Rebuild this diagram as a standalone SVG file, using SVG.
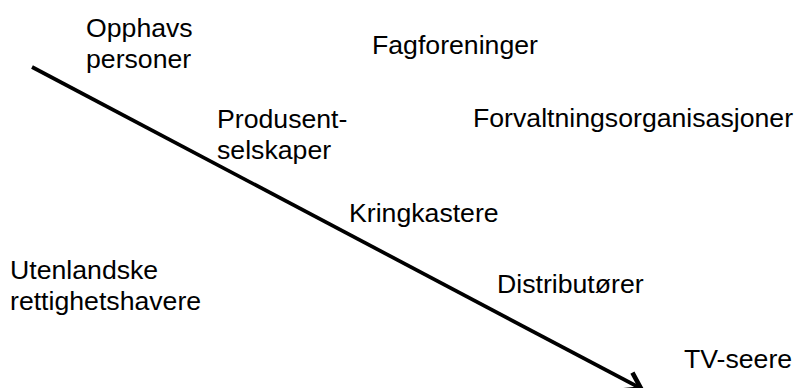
<svg xmlns="http://www.w3.org/2000/svg" width="797" height="388" viewBox="0 0 797 388">
  <style>
    text { font-family: "Liberation Sans", Arial, sans-serif; font-size: 26.67px; fill: #000; }
    .conn { stroke: #000; stroke-width: 3.7; fill: none; }
  </style>
  <defs>
    <marker id="arrow" markerUnits="userSpaceOnUse" markerWidth="30" markerHeight="30" refX="0" refY="0" viewBox="-16 -12 20 24" orient="auto" overflow="visible">
      <path d="M-12,-8 L0,0 L-12,8" fill="none" stroke="#000" stroke-width="3.7"/>
    </marker>
  </defs>
  <rect width="797" height="388" fill="#fff"/>
  <g id="connectors">
    <line class="conn" x1="32" y1="67" x2="641" y2="388.5" marker-end="url(#arrow)"/>
  </g>
  <g id="opphavspersoner"><text x="86" y="37">Opphavs</text><text x="86" y="68">personer</text></g>
  <g id="fagforeninger"><text x="372" y="54">Fagforeninger</text></g>
  <g id="produsentselskaper"><text x="217" y="128">Produsent-</text><text x="217" y="159">selskaper</text></g>
  <g id="forvaltningsorganisasjoner"><text x="473" y="127">Forvaltningsorganisasjoner</text></g>
  <g id="kringkastere"><text x="349" y="222">Kringkastere</text></g>
  <g id="utenlandske"><text x="10" y="279">Utenlandske</text><text x="10" y="310">rettighetshavere</text></g>
  <g id="distributorer"><text x="497" y="293">Distributører</text></g>
  <g id="tvseere"><text x="684" y="368">TV-seere</text></g>
</svg>
